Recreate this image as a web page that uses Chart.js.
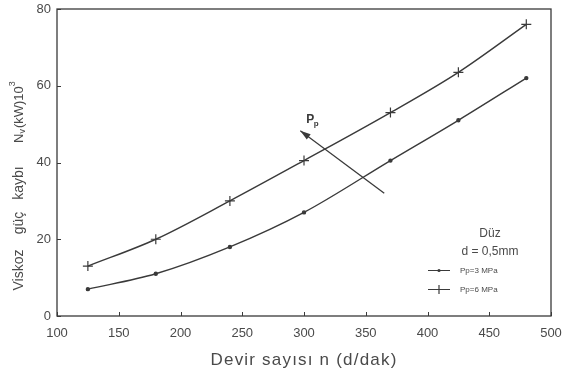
<!DOCTYPE html>
<html>
<head>
<meta charset="utf-8">
<script src="https://cdn.jsdelivr.net/npm/chart.js@4.4.0/dist/chart.umd.min.js"></script>
<style>
  html, body { margin: 0; padding: 0; background: #fff; }
  #wrap { width: 566px; height: 371px; }
</style>
</head>
<body>
<div id="wrap"><canvas id="myChart" width="566" height="371"></canvas></div>
<script>
// devir sayisi (d/dak)
const devir = [125, 180, 240, 300, 370, 425, 480];
// viskoz guc kaybi, kW x 10^3
const kayip3MPa = [7, 11, 18, 27, 40.5, 51, 62];
const kayip6MPa = [13, 20, 30, 40.5, 53, 63.5, 76];

const xTicks = [100, 150, 200, 250, 300, 350, 400, 450, 500];
const yTicks = [0, 20, 40, 60, 80];

// Pp ok (arrow) from -> to, in data units
const okBas = [365, 32];
const okUc = [297, 48.3];

const ink = "#3a3a3a";
const textInk = "#4a4a4a";
const font = "'Liberation Sans', Arial, sans-serif";

function toPoints(xs, ys) {
  return xs.map((x, i) => ({ x: x, y: ys[i] }));
}

// frame, inward ticks, axis titles, arrow and legend box
const extras = {
  id: "extras",
  afterDraw(chart) {
    const c = chart.ctx;
    const a = chart.chartArea;
    const sx = chart.scales.x;
    const sy = chart.scales.y;
    c.save();
    c.strokeStyle = ink;
    c.lineWidth = 1.3;
    c.strokeRect(a.left, a.top, a.right - a.left, a.bottom - a.top);

    c.lineWidth = 1;
    xTicks.forEach((v) => {
      const px = Math.round(sx.getPixelForValue(v)) + 0.5;
      c.beginPath();
      c.moveTo(px, a.bottom);
      c.lineTo(px, a.bottom - 4);
      c.stroke();
    });
    yTicks.forEach((v) => {
      const py = Math.round(sy.getPixelForValue(v)) + 0.5;
      c.beginPath();
      c.moveTo(a.left, py);
      c.lineTo(a.left + 4, py);
      c.stroke();
    });

    // x title
    c.fillStyle = textInk;
    c.font = "17px " + font;
    c.letterSpacing = "1.2px";
    c.textAlign = "center";
    c.textBaseline = "middle";
    c.fillText("Devir sayısı n (d/dak)", 304, 360);
    c.letterSpacing = "0px";

    // y title, rotated
    c.save();
    c.translate(19, 0);
    c.rotate(-Math.PI / 2);
    c.font = "14px " + font;
    c.textAlign = "center";
    c.fillText("Viskoz", -270, 0);
    c.fillText("güç", -223, 0);
    c.fillText("kaybı", -183, 0);
    c.textAlign = "left";
    let tx = -143;
    c.font = "13px " + font;
    c.fillText("N", tx, 0);
    tx += c.measureText("N").width;
    c.font = "9px " + font;
    c.fillText("v", tx, 4);
    tx += c.measureText("v").width + 1;
    c.font = "13px " + font;
    c.fillText("(kW)10", tx, 0);
    tx += c.measureText("(kW)10").width;
    c.font = "9px " + font;
    c.fillText("3", tx, -6);
    c.restore();

    // Pp arrow
    const x0 = sx.getPixelForValue(okBas[0]);
    const y0 = sy.getPixelForValue(okBas[1]);
    const x1 = sx.getPixelForValue(okUc[0]);
    const y1 = sy.getPixelForValue(okUc[1]);
    c.lineWidth = 1.3;
    c.beginPath();
    c.moveTo(x0, y0);
    c.lineTo(x1, y1);
    c.stroke();
    const ang = Math.atan2(y1 - y0, x1 - x0);
    c.fillStyle = ink;
    c.beginPath();
    c.moveTo(x1, y1);
    c.lineTo(x1 - 11 * Math.cos(ang - 0.3), y1 - 11 * Math.sin(ang - 0.3));
    c.lineTo(x1 - 11 * Math.cos(ang + 0.3), y1 - 11 * Math.sin(ang + 0.3));
    c.closePath();
    c.fill();
    c.font = "bold 12px " + font;
    c.textAlign = "center";
    c.textBaseline = "alphabetic";
    c.fillText("P", x1 + 10, y1 - 8);
    c.font = "bold 8px " + font;
    c.fillText("p", x1 + 16, y1 - 5);

    // legend
    c.fillStyle = textInk;
    c.font = "12px " + font;
    c.textAlign = "center";
    c.fillText("Düz", 490, 237);
    c.fillText("d = 0,5mm", 490, 255);
    c.textAlign = "left";
    c.font = "8px " + font;
    c.lineWidth = 1.2;
    c.beginPath();
    c.moveTo(428, 270.5);
    c.lineTo(450, 270.5);
    c.moveTo(428, 289.5);
    c.lineTo(450, 289.5);
    c.stroke();
    c.fillStyle = ink;
    c.beginPath();
    c.arc(439, 270.5, 1.6, 0, Math.PI * 2);
    c.fill();
    c.beginPath();
    c.moveTo(439, 285);
    c.lineTo(439, 294);
    c.stroke();
    c.fillStyle = textInk;
    c.fillText("Pp=3 MPa", 460, 273);
    c.fillText("Pp=6 MPa", 460, 292);
    c.restore();
  }
};

const ctx = document.getElementById("myChart");

const myChart = new Chart(ctx, {
  type: "line",
  data: {
    datasets: [
      {
        label: "Pp=3 MPa",
        data: toPoints(devir, kayip3MPa),
        borderColor: ink,
        backgroundColor: ink,
        borderWidth: 1.4,
        pointStyle: "circle",
        pointRadius: 1.5,
        cubicInterpolationMode: "monotone"
      },
      {
        label: "Pp=6 MPa",
        data: toPoints(devir, kayip6MPa),
        borderColor: ink,
        backgroundColor: ink,
        borderWidth: 1.4,
        pointStyle: "cross",
        pointRadius: 5,
        pointBorderWidth: 1.2,
        cubicInterpolationMode: "monotone"
      }
    ]
  },
  options: {
    responsive: false,
    animation: false,
    layout: { padding: { top: 9, right: 15, left: 0, bottom: 0 } },
    plugins: {
      legend: { display: false },
      tooltip: { enabled: false }
    },
    scales: {
      x: {
        type: "linear",
        min: 100,
        max: 500,
        afterBuildTicks: (s) => { s.ticks = xTicks.map((v) => ({ value: v })); },
        afterFit: (s) => { s.height = 55; s.paddingLeft = 0; s.paddingRight = 0; },
        grid: { display: false, drawTicks: false },
        border: { display: false },
        ticks: { color: textInk, font: { family: font, size: 13 }, padding: 10, maxRotation: 0 }
      },
      y: {
        min: 0,
        max: 80,
        afterBuildTicks: (s) => { s.ticks = yTicks.map((v) => ({ value: v })); },
        afterFit: (s) => { s.width = 57; s.paddingTop = 0; s.paddingBottom = 0; },
        grid: { display: false, drawTicks: false },
        border: { display: false },
        ticks: { color: textInk, font: { family: font, size: 13 }, padding: 6 }
      }
    }
  },
  plugins: [extras]
});
</script>
</body>
</html>
